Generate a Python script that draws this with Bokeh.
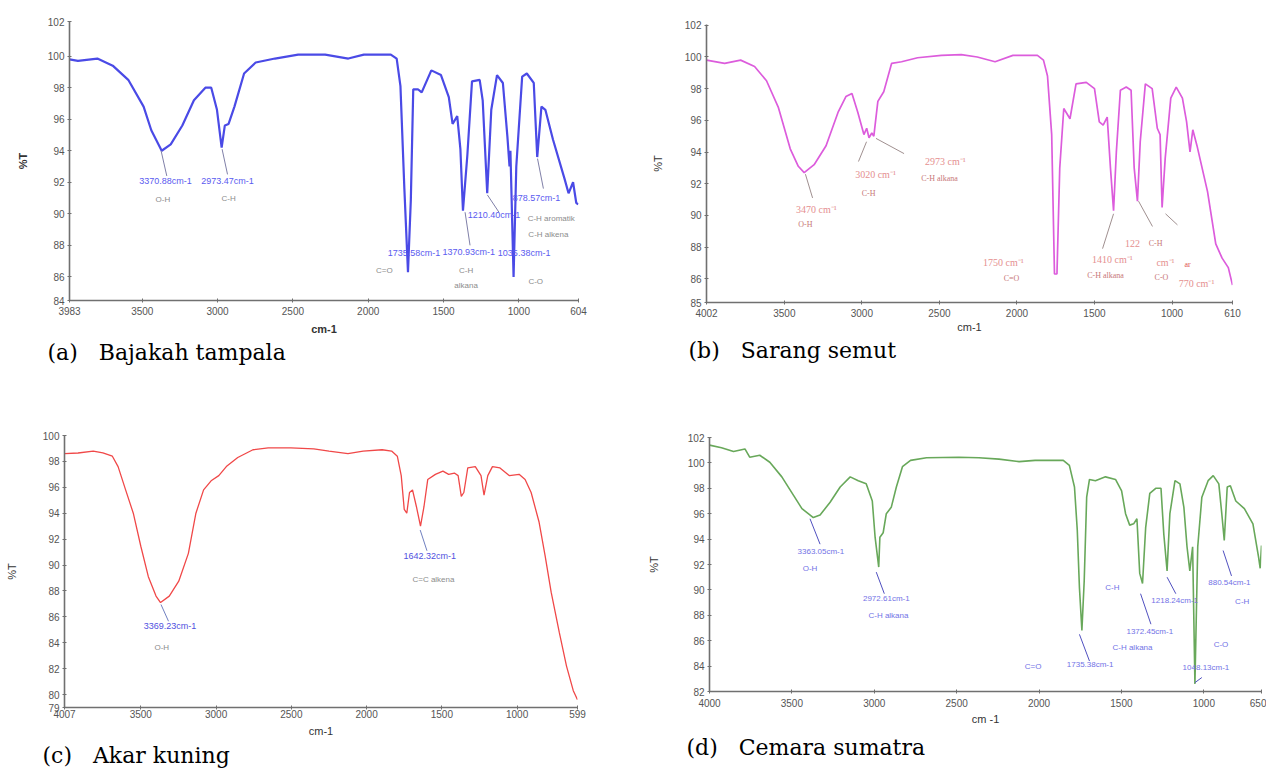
from bokeh.plotting import figure
from bokeh.models import Range1d, FixedTicker, Label
from bokeh.layouts import column, row
from bokeh.embed import file_html
from bokeh.resources import INLINE

# ---------------- data (wavenumber cm-1, %T) ----------------
a_wn = [3983, 3927, 3798, 3696, 3593, 3491, 3440, 3371, 3311, 3234,
        3157, 3081, 3042, 3004, 2973, 2952, 2927, 2888, 2824, 2747,
        2619, 2465, 2286, 2132, 2029, 1850, 1811, 1786, 1760, 1736,
        1717, 1701, 1670, 1645, 1581, 1517, 1465, 1440, 1409, 1388,
        1371, 1342, 1311, 1260, 1240, 1210, 1183, 1145, 1106, 1076,
        1062, 1056, 1035, 1017, 978, 947, 901, 878, 850, 824,
        773, 696, 670, 640, 619, 606]
a_t = [99.8, 99.7, 99.85, 99.4, 98.5, 96.8, 95.3, 94.0, 94.4, 95.6,
       97.2, 98.0, 98.0, 96.6, 94.2, 95.6, 95.7, 96.8, 98.9, 99.6,
       99.85, 100.1, 100.1, 99.85, 100.1, 100.1, 99.85, 98.1, 91.6, 86.3,
       90.9, 97.9, 97.9, 97.7, 99.1, 98.8, 97.4, 95.7, 96.2, 94.1,
       90.2, 93.7, 98.4, 98.5, 97.2, 91.3, 96.6, 98.8, 98.3, 94.9,
       93.0, 94.0, 86.0, 93.0, 98.7, 98.9, 98.3, 93.6, 96.8, 96.6,
       94.7, 92.2, 91.3, 92.0, 90.7, 90.6]

b_wn = [4002, 3885, 3782, 3692, 3615, 3538, 3462, 3410, 3372, 3308,
        3231, 3154, 3103, 3064, 3026, 2987, 2969, 2954, 2936, 2923,
        2897, 2859, 2808, 2744, 2641, 2487, 2359, 2256, 2141, 2026,
        1868, 1829, 1803, 1776, 1758, 1742, 1724, 1698, 1658, 1619,
        1553, 1500, 1469, 1444, 1418, 1397, 1377, 1359, 1333, 1295,
        1264, 1244, 1223, 1205, 1172, 1128, 1095, 1077, 1064, 1044,
        1008, 973, 933, 906, 884, 866, 839, 771, 718, 677,
        637, 610]
b_t = [99.8, 99.6, 99.8, 99.4, 98.5, 96.8, 94.2, 93.1, 92.7, 93.2,
       94.4, 96.5, 97.5, 97.7, 96.5, 95.1, 95.5, 94.9, 95.2, 95.0,
       97.2, 97.8, 99.6, 99.7, 99.95, 100.1, 100.15, 100.0, 99.7, 100.1,
       100.1, 99.8, 98.8, 95.1, 86.3, 86.3, 93.0, 96.75, 96.1, 98.3,
       98.4, 98.0, 95.9, 95.7, 96.2, 93.0, 90.3, 94.0, 97.9, 98.1,
       97.9, 93.0, 90.9, 94.65, 98.3, 98.0, 95.5, 95.1, 90.5, 93.6,
       97.4, 98.1, 97.4, 95.9, 94.0, 95.4, 94.4, 91.5, 88.2, 87.3,
       86.7, 85.6]

c_wn = [4007, 3917, 3816, 3752, 3689, 3651, 3601, 3550, 3500, 3450,
        3399, 3369, 3311, 3248, 3184, 3134, 3083, 3033, 2982, 2932,
        2856, 2755, 2654, 2503, 2351, 2250, 2124, 2023, 1897, 1834,
        1796, 1770, 1750, 1733, 1715, 1695, 1669, 1642, 1619, 1594,
        1543, 1493, 1455, 1417, 1392, 1371, 1354, 1328, 1278, 1240,
        1220, 1195, 1164, 1114, 1051, 987, 947, 907, 854, 814,
        774, 720, 672, 627, 599]
c_t = [98.6, 98.65, 98.8, 98.65, 98.4, 97.6, 95.8, 94.0, 91.45, 89.1,
       87.6, 87.1, 87.6, 88.75, 90.9, 94.0, 95.8, 96.5, 96.9, 97.6,
       98.3, 98.9, 99.05, 99.05, 98.97, 98.8, 98.6, 98.8, 98.9, 98.8,
       98.4, 96.9, 94.3, 94.0, 95.6, 95.8, 94.5, 93.0, 94.5, 96.6,
       97.0, 97.25, 97.0, 97.1, 96.9, 95.3, 95.6, 97.5, 97.6, 96.9,
       95.4, 96.9, 97.6, 97.5, 96.9, 97.0, 96.6, 95.6, 93.3, 90.7,
       87.9, 84.8, 82.2, 80.3, 79.6]

d_wn = [4000, 3927, 3854, 3785, 3756, 3695, 3634, 3561, 3488, 3439,
        3370, 3329, 3268, 3207, 3146, 3097, 3049, 3012, 2995, 2973,
        2966, 2946, 2927, 2897, 2866, 2829, 2780, 2683, 2487, 2365,
        2243, 2121, 2024, 1853, 1816, 1785, 1768, 1755, 1740, 1726,
        1711, 1694, 1658, 1597, 1536, 1499, 1475, 1450, 1426, 1406,
        1389, 1372, 1353, 1328, 1292, 1260, 1243, 1223, 1206, 1175,
        1145, 1121, 1102, 1085, 1068, 1054, 1037, 1012, 974, 943,
        909, 891, 876, 858, 839, 806, 754, 702, 668, 658, 650]
d_t = [101.4, 101.2, 100.9, 101.1, 100.45, 100.6, 100.05, 98.9, 97.4, 96.4,
       95.7, 95.9, 96.9, 98.1, 98.9, 98.6, 98.35, 97.0, 94.15, 91.8,
       94.15, 94.5, 96.0, 96.5, 98.1, 99.7, 100.2, 100.4, 100.45, 100.4,
       100.3, 100.1, 100.2, 100.2, 99.8, 98.1, 94.7, 90.2, 86.8, 90.7,
       97.3, 98.7, 98.6, 98.9, 98.7, 97.8, 96.0, 95.1, 95.2, 95.6,
       91.3, 90.5, 94.9, 97.6, 98.0, 98.0, 94.4, 91.5, 96.0, 98.6,
       98.35, 96.5, 93.4, 91.5, 93.4, 82.6, 93.4, 97.3, 98.6, 99.0,
       98.35, 96.0, 93.9, 98.1, 98.2, 97.0, 96.4, 95.2, 92.6, 91.7, 93.5]

# tick labels
a_xticks = [3983, 3500, 3000, 2500, 2000, 1500, 1000, 604]
b_xticks = [4002, 3500, 3000, 2500, 2000, 1500, 1000, 610]
c_xticks = [4007, 3500, 3000, 2500, 2000, 1500, 1000, 599]
d_xticks = [4000, 3500, 3000, 2500, 2000, 1500, 1000, 650]
a_yticks = [84.5, 86, 88, 90, 92, 94, 96, 98, 100, 102.2]
b_yticks = [84.5, 86, 88, 90, 92, 94, 96, 98, 100, 102]
c_yticks = [79, 80, 82, 84, 86, 88, 90, 92, 94, 96, 98, 100]
d_yticks = [82, 84, 86, 88, 90, 92, 94, 96, 98, 100, 102]

NB = "\u00a0"
captions = ["(a)" + NB * 3 + "Bajakah tampala", "(b)" + NB * 3 + "Sarang semut",
            "(c)" + NB * 3 + "Akar kuning", "(d)" + NB * 3 + "Cemara sumatra"]

# peak annotations: (text, wavenumber, %T, kind)
a_notes = [("3370.88cm-1", 3345, 92.1, "n"), ("2973.47cm-1", 2934, 92.1, "n"),
           ("O-H", 3363, 90.9, "g"), ("C-H", 2927, 91.0, "g"),
           ("1735.58cm-1", 1696, 87.5, "n"), ("1370.93cm-1", 1332, 87.6, "n"),
           ("1035.38cm-1", 965, 87.5, "n"), ("C=O", 1893, 86.4, "g"),
           ("C-H", 1350, 86.4, "g"), ("alkana", 1350, 85.45, "g"),
           ("C-O", 888, 85.7, "g"), ("1210.40cm-1", 1165, 89.9, "n"),
           ("878.57cm-1", 883, 91.0, "n"), ("C-H aromatik", 785, 89.7, "g"),
           ("C-H alkena", 804, 88.7, "g")]
a_leaders = [(3375, 94.0, 3337, 92.4), (2970, 94.1, 2934, 92.5),
             (1357, 90.1, 1324, 88.0), (1209, 91.2, 1132, 90.1),
             (876, 93.5, 837, 91.6)]

b_notes = [("3470 cm⁻¹", 3293, 90.4, "n"), ("O-H", 3364, 89.4, "g"),
           ("3020 cm⁻¹", 2912, 92.6, "n"), ("C-H", 2957, 91.4, "g"),
           ("2973 cm⁻¹", 2461, 93.4, "n"), ("C-H alkana", 2499, 92.3, "g"),
           ("1750 cm⁻¹", 2087, 87.0, "n"), ("C=O", 2035, 86.0, "g"),
           ("1410 cm⁻¹", 1384, 87.2, "n"), ("C-H alkana", 1429, 86.2, "g"),
           ("122", 1255, 88.2, "n"), ("C-H", 1106, 88.2, "g"),
           ("cm⁻¹", 1042, 87.0, "n"), ("C-O", 1068, 86.1, "g"),
           ("ar", 900, 86.9, "r"), ("770 cm⁻¹", 842, 85.7, "n")]
b_leaders = [(3364, 92.6, 3318, 91.1), (2970, 94.65, 3022, 93.4),
             (2909, 94.86, 2728, 93.9), (1377, 90.1, 1448, 87.9),
             (1216, 90.9, 1126, 89.3), (1042, 90.1, 965, 89.4)]

c_notes = [("3369.23cm-1", 3306, 85.3, "n"), ("O-H", 3361, 83.6, "g"),
           ("1642.32cm-1", 1581, 90.7, "n"), ("C=C alkena", 1556, 88.9, "g")]
c_leaders = [(3366, 86.95, 3316, 85.66), (1644, 92.7, 1599, 91.1)]

d_notes = [("3363.05cm-1", 3324, 93.05, "n"), ("O-H", 3390, 91.66, "n"),
           ("2972.61cm-1", 2927, 89.3, "n"), ("C-H alkana", 2914, 88.0, "n"),
           ("C=O", 2036, 84.0, "n"), ("1735.38cm-1", 1690, 84.1, "n"),
           ("C-H", 1555, 90.2, "n"), ("1218.24cm-1", 1177, 89.2, "n"),
           ("1372.45cm-1", 1328, 86.75, "n"), ("C-H alkana", 1433, 85.5, "n"),
           ("C-O", 896, 85.7, "n"), ("1048.13cm-1", 987, 83.9, "n"),
           ("880.54cm-1", 845, 90.6, "n"), ("C-H", 767, 89.1, "n")]
d_leaders = [(3390, 95.6, 3329, 93.6), (2988, 91.4, 2939, 89.7),
             (1755, 86.5, 1694, 84.4), (1223, 91.0, 1170, 89.7),
             (1384, 89.7, 1321, 87.3), (1054, 82.7, 1012, 83.1),
             (883, 93.1, 832, 91.1)]


def panel(w, h, bl, br, bt, bb, xr, yr, xticks, yticks, yover,
          wn, t, color, lw, notes, leaders, note_font, note_size, ncol, gcol,
          lead_col, xlabel, ylabel, bold, ylab_stand, xlab_stand, tick_stand,
          cap, cap_dx, cap_stand):
    p = figure(width=w, height=h, output_backend="svg", toolbar_location=None,
               x_range=Range1d(*xr), y_range=Range1d(*yr),
               min_border_left=bl, min_border_right=br, min_border_top=bt,
               min_border_bottom=bb, background_fill_color="white",
               border_fill_color="white", title=cap, title_location="below")
    p.title.text_font = "DejaVu Serif"
    p.title.text_font_size = "22px"
    p.title.text_font_style = "normal"
    p.title.text_color = "black"
    p.title.align = "left"
    p.title.offset = cap_dx
    p.title.standoff = cap_stand
    p.outline_line_color = None
    p.grid.visible = False
    p.line(wn, t, line_color=color, line_width=lw)
    if leaders:
        p.segment([l[0] for l in leaders], [l[1] for l in leaders],
                  [l[2] for l in leaders], [l[3] for l in leaders],
                  line_color=lead_col, line_width=1)
    for txt, x, y, kind in notes:
        col = ncol if kind == "n" else (gcol if kind == "g" else "#e05050")
        p.add_layout(Label(x=x, y=y, text=txt, text_font=note_font,
                           text_font_size=note_size if kind == "n" else "8px",
                           text_color=col, text_align="center",
                           text_baseline="middle"))
    for ax, ticks in ((p.xaxis, xticks), (p.yaxis, yticks)):
        ax.ticker = FixedTicker(ticks=ticks)
        ax.minor_tick_line_color = None
        ax.axis_line_color = "#707070"
        ax.axis_line_width = 1.6
        ax.major_tick_line_color = "#707070"
        ax.major_tick_in = 2
        ax.major_tick_out = 2
        ax.major_label_text_font = "Liberation Sans"
        ax.major_label_text_font_size = "10px"
        ax.major_label_text_color = "#555555"
        ax.axis_label_text_font = "Liberation Sans"
        ax.axis_label_text_font_size = "11px"
        ax.axis_label_text_color = "#333333"
        ax.axis_label_text_font_style = "bold" if bold else "normal"
    p.yaxis.major_label_overrides = yover
    p.xaxis.major_label_overrides = {v: str(v) for v in xticks}
    p.xaxis.axis_label = xlabel
    p.yaxis.axis_label = ylabel
    p.yaxis.axis_label_standoff = ylab_stand
    p.xaxis.axis_label_standoff = xlab_stand
    p.xaxis.major_label_standoff = tick_stand
    p.yaxis.major_label_standoff = 3
    return p


pa = panel(640, 378, 69, 62, 21, 78, (3983, 604), (84.5, 102.2), a_xticks, a_yticks,
           {84.5: "84", 102.2: "102"}, a_wn, a_t, "#4a4ae6", 2.2, a_notes, a_leaders,
           "Liberation Sans", "9px", "#5a5af0", "#8c8c8c", "#8080a8",
           "cm-1", "%T", True, 16, 5, 4, captions[0], -22, 0)
pb = panel(626, 378, 66, 34, 24, 76, (4002, 610), (84.5, 102.05), b_xticks, b_yticks,
           {84.5: "85"}, b_wn, b_t, "#dc5cdc", 1.7, b_notes, b_leaders,
           "Liberation Serif", "10px", "#e58f8f", "#c87878", "#a09090",
           "cm-1", "%T", False, 18, 1, 4, captions[1], -18, 1)
pc = panel(640, 397, 64, 63, 57, 68, (4007, 599), (79, 100), c_xticks, c_yticks,
           {}, c_wn, c_t, "#f04848", 1.3, c_notes, c_leaders,
           "Liberation Sans", "9px", "#5050e0", "#8c8c8c", "#7080c0",
           "cm-1", "%T", False, 22, 4, 0, captions[2], -22, 3)
pd = panel(626, 397, 69, 5, 59, 84, (4000, 650), (82, 102), d_xticks, d_yticks,
           {}, d_wn, d_t, "#68a85a", 1.6, d_notes, d_leaders,
           "Liberation Sans", "8px", "#7272e6", "#7272e6", "#5050c0",
           "cm -1", "%T", False, 25, 3, 5, captions[3], -23, 11)

layout = column(row(column(pa), column(pb)), row(column(pc), column(pd)))
open("out.html", "w").write(file_html(layout, INLINE))
